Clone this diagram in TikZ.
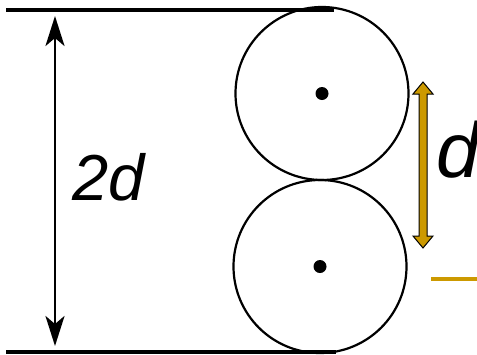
\documentclass[tikz,border=0pt]{standalone}
\usepackage{fontspec}
\setmainfont{Liberation Sans}
\usetikzlibrary{arrows.meta,calc}
\definecolor{gold}{HTML}{CC9900}
\tikzset{
  wheel/.style={circle, draw=black, line width=2.2pt, minimum size=173pt, inner sep=0pt},
  hub/.style={circle, fill=black, minimum size=13pt, inner sep=0pt},
  rail/.style={line width=3.5pt, black},
  dimarrow/.style={line width=2.8pt, {Stealth[length=30pt,width=19pt,inset=8pt]}-{Stealth[length=30pt,width=19pt,inset=8pt]}},
  lbl/.style={inner sep=0pt, font=\itshape},
}
\begin{document}
\begin{tikzpicture}[x=1pt,y=-1pt]
\useasboundingbox (0,0) rectangle (477,354);
% rails
\coordinate (tl) at (6,10);
\coordinate (tr) at (334,10);
\coordinate (bl) at (6,352);
\coordinate (br) at (336,352);
\draw[rail] (tl) -- (tr);
\draw[rail] (bl) -- (br);
% wheels
\node[wheel] (c1) at (322,93.5) {};
\node[wheel] (c2) at (320,266.5) {};
\node[hub] (h1) at (c1.center) {};
\node[hub] (h2) at (c2.center) {};
% 2d arrow
\coordinate (a1) at (55,16);
\coordinate (a2) at (55,346);
\draw[dimarrow] (a1) -- (a2);
\node[lbl, anchor=base west, font=\itshape\fontsize{65}{70}\selectfont] (t2d) at (72,200) {2d};
% gold arrow
\coordinate (g1) at (423,82);
\coordinate (g2) at (423,248);
\draw[fill=gold, draw=black, line width=1pt, line join=miter]
  (g1) -- ++(10,12) -- ++(-6,0) -- ($(g2)+(4,-12)$) -- ++(6,0) -- (g2) -- ++(-10,-12) -- ++(6,0) -- ($(g1)+(-4,12)$) -- ++(-6,0) -- cycle;
\node[lbl, anchor=base west, font=\itshape\fontsize{78}{82}\selectfont] (td) at (436,177) {d};
% gold dash
\coordinate (s1) at (431,279);
\coordinate (s2) at (477,279);
\draw[gold, line width=3.5pt] (s1) -- (s2);
\end{tikzpicture}
\end{document}
